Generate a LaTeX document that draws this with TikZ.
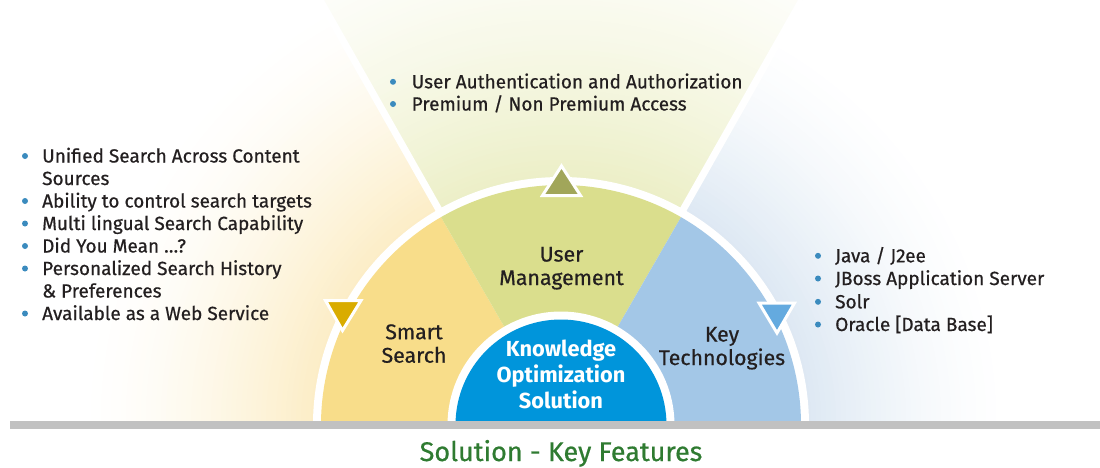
\documentclass[tikz,border=0pt]{standalone}
\usepackage{fontspec}
\setmainfont{Fira Sans}[UprightFeatures={FakeBold=0.6}]
\definecolor{ink}{HTML}{231F20}
\definecolor{bul}{HTML}{3B8BBE}
\definecolor{ysec}{HTML}{F8DD8A}
\definecolor{gsec}{HTML}{DADE8D}
\definecolor{bsec}{HTML}{A3C7E7}
\definecolor{kblue}{HTML}{0095DB}
\definecolor{olive}{HTML}{A1A65A}
\definecolor{gold}{HTML}{D9AC00}
\definecolor{tblue}{HTML}{64AADF}
\definecolor{barg}{HTML}{C1C1C1}
\definecolor{ttl}{HTML}{2F7B31}
\definecolor{ybg}{HTML}{FCEDC6}
\definecolor{gbg}{HTML}{ECEFC7}
\definecolor{bbg}{HTML}{DDE8F3}
\begin{document}
\begin{tikzpicture}[x=1pt,y=-1pt,
  item/.style={anchor=base west, align=left, inner sep=0pt,
    font=\fontsize{19}{22.5}\selectfont, text=ink},
  seclabel/.style={anchor=base, align=center, inner sep=0pt,
    font=\fontsize{21.3}{23.5}\selectfont, text=ink},
  corelabel/.style={anchor=base, align=center, inner sep=0pt,
    font=\bfseries\fontsize{21.8}{25.7}\selectfont, text=white},
  tri/.style={draw=white, line width=3pt, line join=miter}]
\useasboundingbox (0,0) rectangle (1100,467);
\coordinate (C) at (561,425);
\coordinate (TL) at (320,0);
\coordinate (TR) at (802,0);

% fading backgrounds of the three fan regions
\begin{scope}
  \clip (C) -- (TL) -- (0,0) -- (0,425) -- cycle;
  \foreach \r in {475,470,...,250} {
    \pgfmathsetmacro\p{100*((480-\r)/232)^1.5}
    \fill[ybg!\p!white] (C) circle (\r);
  }
\end{scope}
\begin{scope}
  \clip (C) -- (TL) -- (TR) -- cycle;
  \foreach \r in {555,550,...,250} {
    \pgfmathsetmacro\p{100*((560-\r)/312)^1.5}
    \fill[gbg!\p!white] (C) circle (\r);
  }
\end{scope}
\begin{scope}
  \clip (C) -- (TR) -- (1100,0) -- (1100,425) -- cycle;
  \foreach \r in {445,440,...,250} {
    \pgfmathsetmacro\p{100*((450-\r)/202)^1.5}
    \fill[bbg!\p!white] (C) circle (\r);
  }
\end{scope}
\draw[white, line width=7pt] (C) -- (TL);
\draw[white, line width=7pt] (C) -- (TR);

% half disc with its three sectors and the core
\begin{scope}
  \clip (0,0) rectangle (1100,425);
  \fill[white] (C) circle (248);
  \fill[ysec] (C) -- ++(180:240) arc[start angle=180, end angle=240, radius=240] -- cycle;
  \fill[gsec] (C) -- ++(240:240) arc[start angle=240, end angle=300, radius=240] -- cycle;
  \fill[bsec] (C) -- ++(300:240) arc[start angle=300, end angle=360, radius=240] -- cycle;
  \fill[white] (C) circle (113.5);
  \fill[kblue] (C) circle (105.5);
\end{scope}

% markers on the rim
\filldraw[tri, fill=olive] (561.5,166) -- (580.5,195.5) -- (542.5,195.5) -- cycle;
\filldraw[tri, fill=gold] (325.5,300.5) -- (361,300.5) -- (342.5,330.5) -- cycle;
\filldraw[tri, fill=tblue] (759,303) -- (794.5,303) -- (777,333) -- cycle;

% base bar
\fill[barg] (10,421) rectangle (1100,429);

% sector labels (anchored at the baseline of their last line)
\node[seclabel] (um) at (561.5,285) {User\\Management};
\node[seclabel] (ss) at (414,362.7) {Smart\\Search};
\node[seclabel] (kt) at (722,365) {Key\\Technologies};
\node[corelabel] (ko) at (561,408.3) {Knowledge\\Optimization\\Solution};

% feature lists
\foreach \y in {88.3,110.5} \fill[bul] (393,\y-6.5) circle (3);
\node[item] (u1) at (411.5,88.3) {User Authentication and Authorization};
\node[item] (u2) at (411.5,110.5) {Premium / Non Premium Access};

\foreach \y in {162.5,207.5,230,252.5,275,320} \fill[bul] (25,\y-6.5) circle (3);
\node[item] (s1) at (42,185) {Unified Search Across Content\\Sources};
\node[item] (s2) at (42,207.5) {Ability to control search targets};
\node[item] (s3) at (42,230) {Multi lingual Search Capability};
\node[item] (s4) at (42,252.5) {Did You Mean …?};
\node[item] (s5) at (42,297.5) {Personalized Search History\\\& Preferences};
\node[item] (s6) at (42,320) {Available as a Web Service};

\foreach \y in {262.3,285,308.3,331} \fill[bul] (818,\y-6.5) circle (3);
\node[item] (k1) at (835,262.3) {Java / J2ee};
\node[item] (k2) at (835,285) {JBoss Application Server};
\node[item] (k3) at (835,308.3) {Solr};
\node[item] (k4) at (835,331) {Oracle [Data Base]};

% caption
\node[anchor=base, inner sep=0pt, text=ttl, font=\fontsize{27}{30}\selectfont] (cap) at (561,461) {Solution - Key Features};
\end{tikzpicture}
\end{document}
